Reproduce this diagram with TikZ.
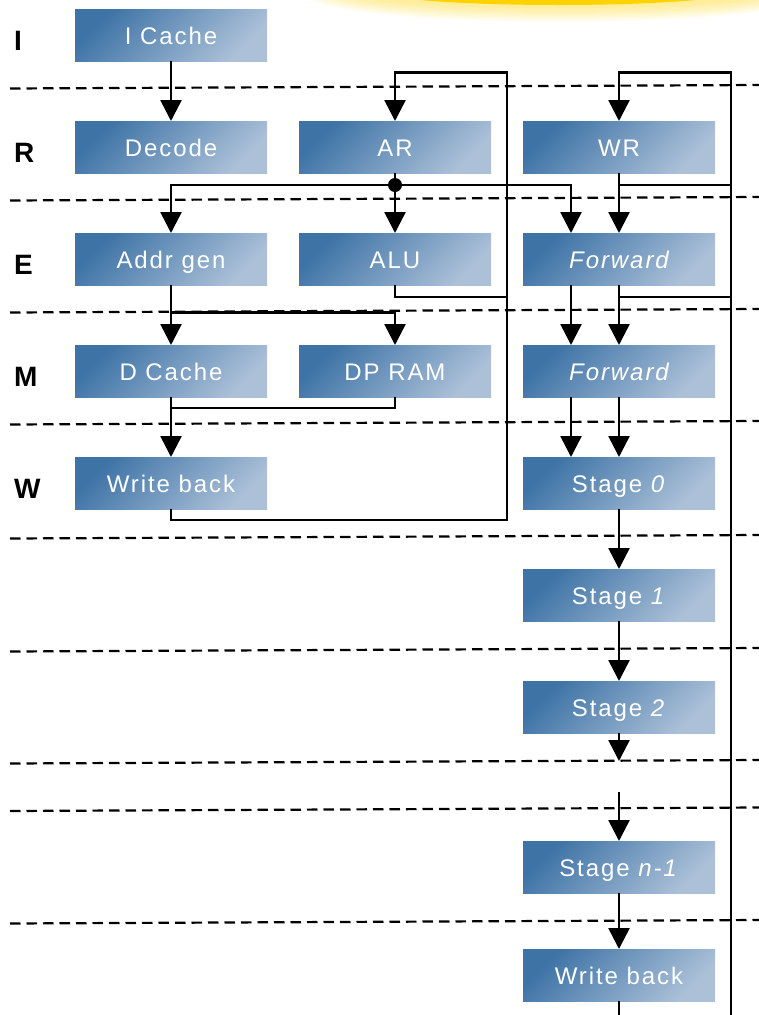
\documentclass[tikz,border=0pt]{standalone}
\usepackage{fontspec}
\setmainfont{Liberation Sans}
\newfontfamily\boxfont[LetterSpace=8]{Liberation Sans}
\usetikzlibrary{arrows.meta}

\definecolor{bxdark}{RGB}{62,115,166}
\definecolor{bxlight}{RGB}{172,193,216}
\definecolor{glow}{RGB}{255,210,0}

\tikzset{
  blk/.style={shade, left color=bxdark, right color=bxlight, shading angle=45,
    minimum width=192pt, minimum height=52pt, inner sep=0pt, outer sep=0pt,
    text=white, font=\boxfont\fontsize{24pt}{28pt}\selectfont,
    text height=19pt, text depth=0pt},
  stagelbl/.style={anchor=base west, inner sep=0pt,
    font=\bfseries\fontsize{28pt}{30pt}\selectfont},
  wire/.style={line width=2.6pt},
  arr/.style={wire, -{Triangle[length=21pt,width=21pt]}},
  sep/.style={line width=2.2pt, dash pattern=on 10.5pt off 6pt},
}

\begin{document}
\begin{tikzpicture}[x=1pt,y=-1pt]
\useasboundingbox (0,0) rectangle (759,1015);

% soft yellow glow at the top edge
\begin{scope}
  \clip (0,0) rectangle (759,30);
  \foreach \i in {1,...,8}
    \fill[glow, opacity=0.06] (560,-6) ellipse ({200+7*\i} and {12+2*\i});
  \fill[glow] (558,-9) ellipse (180 and 14);
\end{scope}

% pipeline stage separators
\foreach \y in {88.5,200.5,312.5,424.5,538.5,651.5,763.5,811,923.5}
  \draw[sep] (10,\y) -- (759,\y-3.5);

% stage letters
\node[stagelbl] (lI) at (14,50)  {I};
\node[stagelbl] (lR) at (14,162) {R};
\node[stagelbl] (lE) at (14,274) {E};
\node[stagelbl] (lM) at (14,386) {M};
\node[stagelbl] (lW) at (14,498) {W};

% blocks
\node[blk] (icache) at (171,35)  {I Cache};
\node[blk] (decode) at (171,147) {Decode};
\node[blk] (ar)     at (395,147) {AR};
\node[blk] (wr)     at (619,147) {WR};
\node[blk] (agen)   at (171,259) {Addr gen};
\node[blk] (alu)    at (395,259) {ALU};
\node[blk] (fwd1)   at (619,259) {\itshape Forward};
\node[blk] (dcache) at (171,371) {D Cache};
\node[blk] (dpram)  at (395,371) {DP RAM};
\node[blk] (fwd2)   at (619,371) {\itshape Forward};
\node[blk] (wb1)    at (171,483) {Write back};
\node[blk] (st0)    at (619,483) {Stage \textit{0}};
\node[blk] (st1)    at (619,595) {Stage \textit{1}};
\node[blk] (st2)    at (619,707) {Stage \textit{2}};
\node[blk] (stn)    at (619,867) {Stage \textit{n-1}};
\node[blk] (wb2)    at (619,975) {Write back};

% routing points
\coordinate (dot)    at (395,185);
\coordinate (arTop)  at (507,72.5);
\coordinate (arBot)  at (507,520);
\coordinate (aluJn)  at (507,297);
\coordinate (wrTop)  at (731,72.5);
\coordinate (wrBot)  at (731,1015);
\coordinate (wrJn1)  at (731,185);
\coordinate (wrJn2)  at (731,297);
\coordinate (split)  at (171,312.5);
\coordinate (merge)  at (171,408);
\coordinate (gapA)   at (619,761);
\coordinate (gapB)   at (619,792);
\coordinate (endB)   at (619,1015);

% integer pipe
\draw[arr] (icache) -- (decode);
\draw[arr] (ar) -- (alu);
\fill (dot) circle (7pt);
\draw[arr] (dot) -| (agen.north);
\draw[arr] (dot) -| ([xshift=-48pt]fwd1.north);
\draw[arr] (agen) -- (dcache);
\draw[arr] (split) -| (dpram.north);
\draw[arr] (dcache) -- (wb1);
\draw[wire] (dpram.south) |- (merge);
\draw[arr] (wb1.south) |- (arBot) -- (arTop) -| (ar.north);
\draw[wire] (alu.south) |- (aluJn);

% long pipe
\draw[arr] (wrBot) -- (wrTop) -| (wr.north);
\draw[arr] (wr) -- (fwd1);
\draw[wire] (wr.south |- wrJn1) -- (wrJn1);
\draw[arr] (fwd1) -- (fwd2);
\draw[wire] (fwd1.south |- wrJn2) -- (wrJn2);
\draw[arr] ([xshift=-48pt]fwd1.south) -- ([xshift=-48pt]fwd2.north);
\draw[arr] ([xshift=-48pt]fwd2.south) -- ([xshift=-48pt]st0.north);
\draw[arr] (fwd2) -- (st0);
\draw[arr] (st0) -- (st1);
\draw[arr] (st1) -- (st2);
\draw[arr] (st2.south) -- (gapA);
\draw[arr] (gapB) -- (stn.north);
\draw[arr] (stn) -- (wb2);
\draw[wire] (wb2.south) -- (endB);
\end{tikzpicture}
\end{document}
